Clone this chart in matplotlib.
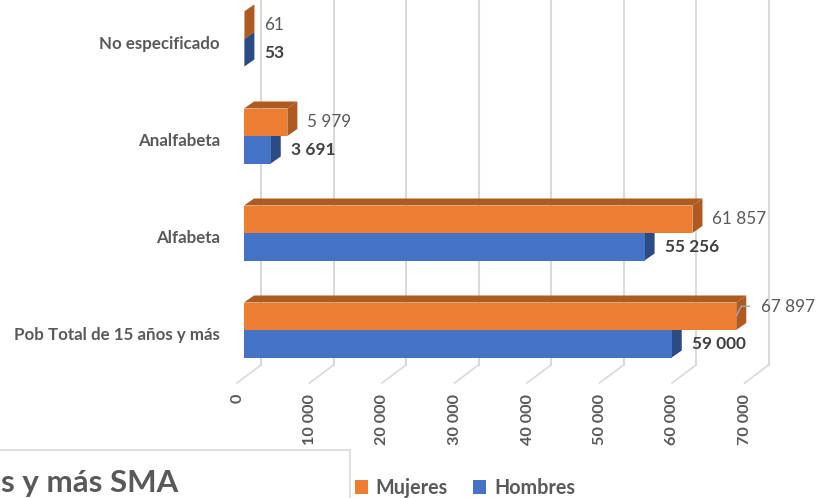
import matplotlib
matplotlib.use("Agg")
import matplotlib.pyplot as plt
from matplotlib.patches import Polygon, Rectangle, Patch

plt.rcParams['font.family'] = ['Lato', 'DejaVu Sans']

# ---- data ----
categories = ["Pob Total de 15 años y más", "Alfabeta", "Analfabeta", "No especificado"]
mujeres = [67897, 61857, 5979, 61]
hombres = [59000, 55256, 3691, 53]
ticks = [0, 10000, 20000, 30000, 40000, 50000, 60000, 70000]
series_names = ["Mujeres", "Hombres"]
title_fragment = "s y más SMA"

def fmt(v):
    return f"{v:,}".replace(",", " ")

# ---- layout (pixels) ----
W, H = 816, 498
X0 = 244                    # front-plane zero
PXV = 72.5 / 10000          # px per unit value
PITCH = 97                  # px per category
Y0 = 168                    # px from bottom of the first category centre
bar_h = 27.5 / PITCH

fig = plt.figure(figsize=(W / 100, H / 100), dpi=100)
ax = fig.add_axes([X0 / W, (Y0 - PITCH / 2) / H, 70000 * PXV / W, 4 * PITCH / H])
ax.set_xlim(0, 70000)
ax.set_ylim(-0.5, 3.5)
ax.axis('off')

def dxp(p):   # pixel -> data x
    return p / PXV
def dyp(p):   # pixel -> data y
    return p / PITCH

def ypix_to_data(y_from_top):
    y_bot = H - y_from_top
    return -0.5 + (y_bot - (Y0 - PITCH / 2)) / PITCH

grid_c = "#d9d9d9"
floor_back = ypix_to_data(365)
floor_front = ypix_to_data(383)
top = ypix_to_data(-5)
for t in ticks:
    ax.plot([t + dxp(17), t + dxp(17)], [floor_back, top], color=grid_c, lw=1.5,
            clip_on=False, zorder=1)
    ax.plot([t + dxp(17), t - dxp(7)], [floor_back, floor_front], color=grid_c, lw=1.2,
            clip_on=False, zorder=1)
    ax.text(t - dxp(6.5), ypix_to_data(394), fmt(t), rotation=90, ha='center', va='top',
            fontsize=11.7, fontweight='bold', color="#595959", clip_on=False)

front_cols = {"Mujeres": "#ED7D31", "Hombres": "#4472C4"}
dark_cols = {"Mujeres": "#AE5A21", "Hombres": "#2B4B85"}
ddx, ddy = dxp(10), dyp(7)

ys = list(range(len(categories)))

def draw_bar(y_c, v, name, z):
    y0, y1 = y_c - bar_h / 2, y_c + bar_h / 2
    fc, dc = front_cols[name], dark_cols[name]
    ax.add_patch(Polygon([(0, y1), (v, y1), (v + ddx, y1 + ddy), (ddx, y1 + ddy)],
                         closed=True, facecolor=dc, edgecolor='none', zorder=z))
    ax.add_patch(Polygon([(v, y0), (v + ddx, y0 + ddy), (v + ddx, y1 + ddy), (v, y1)],
                         closed=True, facecolor=dc, edgecolor='none', zorder=z))
    ax.barh([y_c], [v], height=bar_h, color=fc, edgecolor='none', zorder=z + 0.5)

for i in ys:
    draw_bar(i - bar_h / 2, hombres[i], "Hombres", 3)
    draw_bar(i + bar_h / 2, mujeres[i], "Mujeres", 5)

for i in ys:
    # category labels
    ax.text(-dxp(24), i - dyp(5), categories[i], ha='right', va='center',
            fontsize=12.2, fontweight='bold', color="#595959", clip_on=False)
    # hombres value labels
    ax.text(hombres[i] + dxp(20), i - bar_h / 2, fmt(hombres[i]), ha='left', va='center',
            fontsize=12.4, fontweight='bold', color="#404040", clip_on=False)
    # mujeres value labels
    if i == 0:
        v = mujeres[i]
        yc = i + bar_h / 2
        ax.plot([v, v + dxp(5), v + dxp(13)], [yc, yc + dyp(10), yc + dyp(10)],
                color="#a6a6a6", lw=1, zorder=8, clip_on=False)
        ax.text(v + dxp(25), yc + dyp(9), fmt(v), ha='left', va='center',
                fontsize=12.3, color="#595959", clip_on=False)
    else:
        ax.text(mujeres[i] + dxp(20), i + bar_h / 2, fmt(mujeres[i]), ha='left',
                va='center', fontsize=12.3, color="#595959", clip_on=False)

# legend
handles = [Patch(facecolor=front_cols[n], edgecolor='none', label=n) for n in series_names]
leg = fig.legend(handles=handles, ncol=2, frameon=False, loc='center left',
                 bbox_to_anchor=(347 / W, 10 / H), handlelength=0.65, handleheight=0.65,
                 handletextpad=0.4, columnspacing=1.3, borderaxespad=0,
                 prop={'size': 14.2, 'weight': 'bold'})
for t in leg.get_texts():
    t.set_color("#595959")

# title box fragment
fig.patches.append(Rectangle((-5 / W, -5 / H), 355 / W, 53 / H, transform=fig.transFigure,
                             facecolor='white', edgecolor=grid_c, lw=1.2, zorder=0))
fig.text(178 / W, 15 / H, title_fragment, ha='right', va='center', fontsize=22.5,
         fontweight='bold', color="#595959")

fig.savefig("out.png", dpi=100)
